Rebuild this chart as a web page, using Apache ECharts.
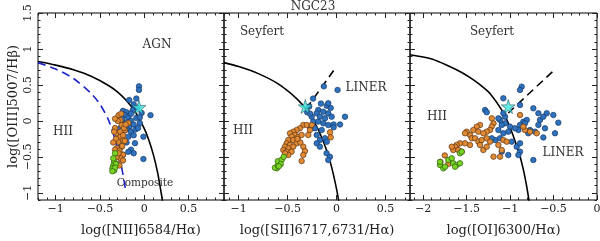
<!DOCTYPE html>
<html><head><meta charset="utf-8">
<script src="https://cdn.jsdelivr.net/npm/echarts@6/dist/echarts.min.js"></script>
<style>html,body{margin:0;padding:0;background:#fff}#c{width:600px;height:241px}</style>
</head><body><div id="c"></div>
<script>
// ---------- data ----------
const niiBlue = [[-0.06,0.48],[-0.06,0.43],[-0.17,0.29],[-0.09,0.31],[-0.12,0.23],[0.07,0.08],[-0.03,0.11],[-0.24,0.14],[-0.2,0.12],[-0.22,0.08],[-0.25,0.03],[-0.18,0.05],[-0.15,0.0],[-0.2,-0.02],[-0.23,-0.05],[-0.17,-0.08],[-0.09,0.04],[-0.05,-0.03],[-0.12,-0.05],[-0.2,-0.12],[-0.15,-0.15],[-0.1,-0.12],[-0.25,-0.18],[-0.18,-0.22],[-0.01,-0.22],[-0.105,-0.31],[-0.15,-0.4],[-0.12,-0.45],[-0.18,-0.43],[-0.01,-0.53],[-0.24,-0.47],[-0.13,0.15],[-0.08,0.18],[-0.15,0.1],[-0.27,-0.1],[-0.2,-0.3],[-0.07,-0.1],[-0.05,0.05],[-0.27,-0.36],[-0.12,-0.2]];
const niiOrange = [[-0.29,0.08],[-0.27,0.01],[-0.255,-0.06],[-0.33,-0.1],[-0.31,-0.17],[-0.27,-0.22],[-0.29,-0.29],[-0.24,-0.27],[-0.255,-0.36],[-0.31,-0.38],[-0.24,-0.47],[-0.27,-0.52],[-0.18,-0.03],[-0.22,-0.13],[-0.3,0.0],[-0.26,0.1],[-0.32,-0.25],[-0.25,-0.35],[-0.33,-0.4],[-0.28,-0.42],[-0.31,-0.5],[-0.24,-0.55],[-0.3,-0.6],[-0.27,-0.15],[-0.24,-0.2],[-0.22,-0.28],[-0.34,-0.15],[-0.35,-0.3],[-0.29,-0.45],[-0.23,-0.1],[-0.28,-0.62],[-0.21,-0.05],[-0.33,0.03]];
const niiGreen = [[-0.33,-0.45],[-0.34,-0.57],[-0.35,-0.62],[-0.36,-0.66],[-0.34,-0.69],[-0.32,-0.6],[-0.33,-0.65],[-0.36,-0.7],[-0.35,-0.52]];
const niiStar = [[-0.06,0.19]];

const siiBlue = [[-0.13,0.48],[0.01,0.43],[-0.24,0.31],[-0.16,0.24],[-0.10,0.21],[-0.06,0.18],[-0.187,0.152],[-0.136,0.128],[-0.203,0.105],[-0.085,0.105],[-0.17,0.058],[-0.118,0.036],[-0.05,0.058],[-0.254,0.058],[-0.238,-0.01],[-0.187,-0.01],[-0.136,-0.034],[-0.085,-0.057],[-0.272,-0.08],[-0.22,-0.103],[-0.152,-0.127],[-0.203,-0.196],[-0.17,-0.266],[-0.118,-0.242],[-0.203,-0.312],[-0.17,-0.358],[-0.102,-0.45],[-0.068,-0.5],[-0.085,-0.544],[0.086,0.058],[0.035,-0.05],[-0.03,-0.05],[-0.03,-0.09],[-0.1,-0.29],[-0.085,0.245],[-0.28,0.2],[-0.3,0.12],[-0.27,0.1]];
const siiOrange = [[-0.34,-0.057],[-0.305,-0.057],[-0.374,-0.103],[-0.408,-0.127],[-0.442,-0.15],[-0.476,-0.173],[-0.425,-0.196],[-0.459,-0.22],[-0.391,-0.22],[-0.357,-0.196],[-0.493,-0.266],[-0.442,-0.266],[-0.51,-0.312],[-0.476,-0.335],[-0.408,-0.312],[-0.527,-0.358],[-0.493,-0.381],[-0.442,-0.358],[-0.544,-0.405],[-0.51,-0.428],[-0.459,-0.428],[-0.34,-0.358],[-0.323,-0.42],[-0.34,-0.474],[-0.357,-0.558],[-0.067,-0.159],[-0.06,-0.229],[-0.272,-0.127],[-0.254,-0.057],[-0.289,-0.196],[-0.493,-0.474],[-0.527,-0.451],[-0.37,-0.3],[-0.4,-0.25]];
const siiGreen = [[-0.61,-0.66],[-0.63,-0.65],[-0.6,-0.62],[-0.58,-0.59],[-0.6,-0.56],[-0.56,-0.54],[-0.54,-0.5],[-0.57,-0.6],[-0.59,-0.63]];
const siiStar = [[-0.32,0.2]];

const oiBlue = [[-0.866,0.476],[-0.885,0.43],[-1.077,0.314],[-1.287,0.151],[-1.268,0.12],[-0.885,0.221],[-0.732,0.175],[-0.674,0.106],[-0.655,0.013],[-0.578,0.106],[-0.617,0.058],[-0.502,0.082],[-0.445,-0.025],[-0.674,-0.057],[-0.598,-0.103],[-0.483,-0.172],[-0.713,-0.15],[-0.847,-0.011],[-0.808,0.013],[-0.828,-0.034],[-0.885,-0.057],[-0.904,-0.127],[-0.943,-0.103],[-1.0,-0.08],[-1.057,-0.034],[-1.115,0.013],[-1.095,-0.057],[-1.134,-0.127],[-1.077,-0.172],[-1.02,-0.15],[-1.115,-0.242],[-1.172,-0.266],[-1.21,-0.242],[-0.923,-0.359],[-0.885,-0.428],[-0.904,-0.474],[-1.095,-0.428],[-1.02,-0.474],[-0.732,-0.544],[-0.885,-0.312],[-0.98,-0.289],[-0.79,-0.172],[-0.77,-0.127],[-1.057,0.058],[-1.077,0.106],[-1.134,0.035],[-0.617,-0.23]];
const oiOrange = [[-0.885,0.082],[-1.19,-0.034],[-1.21,-0.08],[-1.23,-0.127],[-1.268,-0.15],[-1.345,-0.057],[-1.383,-0.08],[-1.422,-0.127],[-1.364,-0.15],[-1.307,-0.172],[-1.46,-0.196],[-1.498,-0.15],[-1.517,-0.172],[-1.44,-0.242],[-1.402,-0.242],[-1.364,-0.289],[-1.326,-0.266],[-1.268,-0.242],[-1.23,-0.289],[-1.345,-0.335],[-1.307,-0.405],[-1.268,-0.359],[-1.46,-0.335],[-1.517,-0.312],[-1.575,-0.312],[-1.613,-0.335],[-1.632,-0.359],[-1.652,-0.405],[-1.594,-0.405],[-1.555,-0.428],[-1.67,-0.359],[-1.19,-0.497],[-1.115,-0.497],[-1.095,-0.405],[-1.134,-0.335],[-1.077,-0.266],[-0.77,-0.15],[-0.693,-0.172],[-0.828,-0.127],[-0.847,-0.08],[-1.21,0.035],[-1.038,-0.289],[-1.8,-0.57],[-1.71,-0.6],[-1.75,-0.48]];
const oiGreen = [[-1.805,-0.613],[-1.767,-0.66],[-1.71,-0.544],[-1.67,-0.52],[-1.652,-0.59],[-1.613,-0.613],[-1.575,-0.59],[-1.575,-0.45],[-1.555,-0.428],[-1.747,-0.637],[-1.632,-0.637],[-1.805,-0.57]];
const oiStar = [[-1.02,0.2]];

// demarcation lines
const niiKewley = [[-1.2,0.825],[-1.0,0.775],[-0.8,0.71],[-0.6,0.62],[-0.4,0.489],[-0.3,0.4],[-0.2,0.28],[-0.1,0.12],[0.0,-0.108],[0.05,-0.262],[0.1,-0.459],[0.15,-0.716],[0.2,-1.069],[0.21,-1.156]];
const niiKauffmann = [[-1.2,0.81],[-1.0,0.72],[-0.8,0.59],[-0.6,0.38],[-0.5,0.23],[-0.4,0.0],[-0.33,-0.26],[-0.28,-0.5],[-0.24,-0.75],[-0.21,-0.97]];
const siiKewley = [[-1.15,0.81],[-1.0,0.755],[-0.8,0.657],[-0.6,0.517],[-0.4,0.30],[-0.3,0.139],[-0.2,-0.085],[-0.1,-0.414],[-0.05,-0.646],[0.0,-0.95],[0.03,-1.183]];
const siiSplit = [[-0.31,0.17],[-0.03,0.70]];
const oiKewley = [[-2.15,0.92],[-1.9,0.86],[-1.7,0.76],[-1.55,0.67],[-1.42,0.57],[-1.3,0.46],[-1.23,0.38],[-1.1,0.16],[-1.02,-0.03],[-0.96,-0.22],[-0.9,-0.43],[-0.85,-0.66],[-0.81,-0.9],[-0.78,-1.12]];
const oiSplit = [[-1.02,0.11],[-0.48,0.72]];

// axes ranges and ticks
const xRange1 = [-1.2, 0.9], xRange2 = [-1.15, 0.75], xRange3 = [-2.15, 0], yRange = [-1.1, 1.5];
const xMajor1 = [-1, -0.5, 0, 0.5];
const xMinor1 = [-1.2,-1.1,-1.0,-0.9,-0.8,-0.7,-0.6,-0.5,-0.4,-0.3,-0.2,-0.1,0,0.1,0.2,0.3,0.4,0.5,0.6,0.7,0.8,0.9];
const xMajor2 = [-1, -0.5, 0, 0.5];
const xMinor2 = [-1.1,-1.0,-0.9,-0.8,-0.7,-0.6,-0.5,-0.4,-0.3,-0.2,-0.1,0,0.1,0.2,0.3,0.4,0.5,0.6,0.7];
const xMajor3 = [-2, -1.5, -1, -0.5, 0];
const xMinor3 = [-2.1,-2.0,-1.9,-1.8,-1.7,-1.6,-1.5,-1.4,-1.3,-1.2,-1.1,-1.0,-0.9,-0.8,-0.7,-0.6,-0.5,-0.4,-0.3,-0.2,-0.1,0];
const yMajor = [-1, -0.5, 0, 0.5, 1, 1.5];
const yMinor = [-1.1,-1.0,-0.9,-0.8,-0.7,-0.6,-0.5,-0.4,-0.3,-0.2,-0.1,0,0.1,0.2,0.3,0.4,0.5,0.6,0.7,0.8,0.9,1.0,1.1,1.2,1.3,1.4,1.5];

const xNames = ['log([NII]6584/Hα)', 'log([SII]6717,6731/Hα)', 'log([OI]6300/Hα)'];
const yName = 'log([OIII]5007/Hβ)';
const title = 'NGC23';

// ---------- chart ----------
const FONT = 'DejaVu Serif';
const INK = '#222';
const fmt = v => (v < 0 ? '\u2212' : '') + String(Math.abs(Math.round(v * 100) / 100));

function tick(vals, len) {
  return {show: true, inside: true, length: len, customValues: vals, lineStyle: {color: INK, width: 1}};
}
const noLine = {show: false, onZero: false};
function xAxes(g, r, major, minor, name, pad) {
  const base = {gridIndex: g, type: 'value', min: r[0], max: r[1], splitLine: {show: false}, axisLine: noLine};
  return [
    Object.assign({}, base, {position: 'bottom', axisTick: tick(major, 5),
      axisLabel: {show: true, customValues: major, formatter: fmt, margin: 4, fontFamily: FONT, fontSize: 11, color: INK},
      name: name, nameLocation: 'middle', nameGap: 24,
      nameTextStyle: {fontFamily: FONT, fontSize: 13, color: INK, padding: pad}}),
    Object.assign({}, base, {position: 'bottom', axisTick: tick(minor, 2.5), axisLabel: {show: false}}),
    Object.assign({}, base, {position: 'top', axisTick: tick(major, 5), axisLabel: {show: false}}),
    Object.assign({}, base, {position: 'top', axisTick: tick(minor, 2.5), axisLabel: {show: false}})
  ];
}
function yAxes(g, showLabels) {
  const base = {gridIndex: g, type: 'value', min: yRange[0], max: yRange[1], splitLine: {show: false}, axisLine: noLine};
  const first = Object.assign({}, base, {position: 'left', axisTick: tick(yMajor, 5),
    axisLabel: showLabels ? {show: true, customValues: yMajor, formatter: fmt, rotate: 90, margin: 4, fontFamily: FONT, fontSize: 11, color: INK} : {show: false}});
  if (showLabels) {
    Object.assign(first, {name: yName, nameLocation: 'middle', nameGap: 18, nameTextStyle: {fontFamily: FONT, fontSize: 13, color: INK}});
  }
  return [
    first,
    Object.assign({}, base, {position: 'left', axisTick: tick(yMinor, 2.5), axisLabel: {show: false}}),
    Object.assign({}, base, {position: 'right', axisTick: tick(yMajor, 5), axisLabel: {show: false}}),
    Object.assign({}, base, {position: 'right', axisTick: tick(yMinor, 2.5), axisLabel: {show: false}})
  ];
}

const starPath = 'path://M50,0 L61,35 L98,35 L68,57 L79,91 L50,70 L21,91 L32,57 L2,35 L39,35 Z';
function dots(g, data, fill, edge) {
  return {type: 'scatter', xAxisIndex: g * 4, yAxisIndex: g * 4, data: data, symbol: 'circle', symbolSize: 5.5,
    itemStyle: {color: fill, borderColor: edge, borderWidth: 0.7, opacity: 1}, silent: true, z: 3};
}
function star(g, data) {
  return {type: 'scatter', xAxisIndex: g * 4, yAxisIndex: g * 4, data: data, symbol: starPath, symbolSize: 14,
    itemStyle: {color: '#3fe6e0', borderColor: '#1d4f55', borderWidth: 0.7}, silent: true, z: 5};
}
function line(g, data, color, dashed) {
  return {type: 'line', xAxisIndex: g * 4, yAxisIndex: g * 4, data: data, showSymbol: false, smooth: 0.3, clip: true,
    lineStyle: {color: color, width: 1.6, type: dashed ? [8, 5] : 'solid'}, silent: true, z: 2};
}

const BLUE = '#2e72bf', BLUE_E = '#173a66';
const ORANGE = '#e08a33', ORANGE_E = '#5e3412';
const GREEN = '#79d323', GREEN_E = '#2c5c10';

const grids = [
  {left: 38, top: 13, width: 186, height: 187},
  {left: 224, top: 13, width: 186, height: 187},
  {left: 410, top: 13, width: 187, height: 187}
].map(g => Object.assign(g, {show: true, borderColor: '#000', borderWidth: 1, backgroundColor: 'transparent', outerBoundsMode: 'none'}));

function txt(x, y, s, size) {
  return {type: 'text', x: x, y: y, silent: true, z: 10,
    style: {text: s, fill: '#333', font: (size || 12) + 'px "' + FONT + '"', textAlign: 'center', textVerticalAlign: 'middle'}};
}

const option = {
  animation: false,
  backgroundColor: '#fff',
  grid: grids,
  xAxis: [].concat(
    xAxes(0, xRange1, xMajor1, xMinor1, xNames[0], [0, 0, 0, 20]),
    xAxes(1, xRange2, xMajor2, xMinor2, xNames[1], [0, 0, 0, 0]),
    xAxes(2, xRange3, xMajor3, xMinor3, xNames[2], [0, 0, 0, 0])),
  yAxis: [].concat(yAxes(0, true), yAxes(1, false), yAxes(2, false)),
  graphic: [
    txt(313, 7, title, 12),
    txt(157, 45, 'AGN', 12), txt(63, 132, 'HII', 12), txt(145, 183, 'Composite', 10.5),
    txt(262, 32, 'Seyfert', 12), txt(366, 88, 'LINER', 12), txt(243, 131, 'HII', 12),
    txt(492, 32, 'Seyfert', 12), txt(437, 117, 'HII', 12), txt(563, 153, 'LINER', 12)
  ],
  series: [
    line(0, niiKewley, '#000', false), line(0, niiKauffmann, '#1c24c8', true),
    dots(0, niiBlue, BLUE, BLUE_E), dots(0, niiOrange, ORANGE, ORANGE_E), dots(0, niiGreen, GREEN, GREEN_E), star(0, niiStar),
    line(1, siiKewley, '#000', false), line(1, siiSplit, '#000', true),
    dots(1, siiBlue, BLUE, BLUE_E), dots(1, siiOrange, ORANGE, ORANGE_E), dots(1, siiGreen, GREEN, GREEN_E), star(1, siiStar),
    line(2, oiKewley, '#000', false), line(2, oiSplit, '#000', true),
    dots(2, oiBlue, BLUE, BLUE_E), dots(2, oiOrange, ORANGE, ORANGE_E), dots(2, oiGreen, GREEN, GREEN_E), star(2, oiStar)
  ]
};
const chart = echarts.init(document.getElementById('c'), null, {renderer: 'canvas'});
chart.setOption(option);
</script></body></html>
